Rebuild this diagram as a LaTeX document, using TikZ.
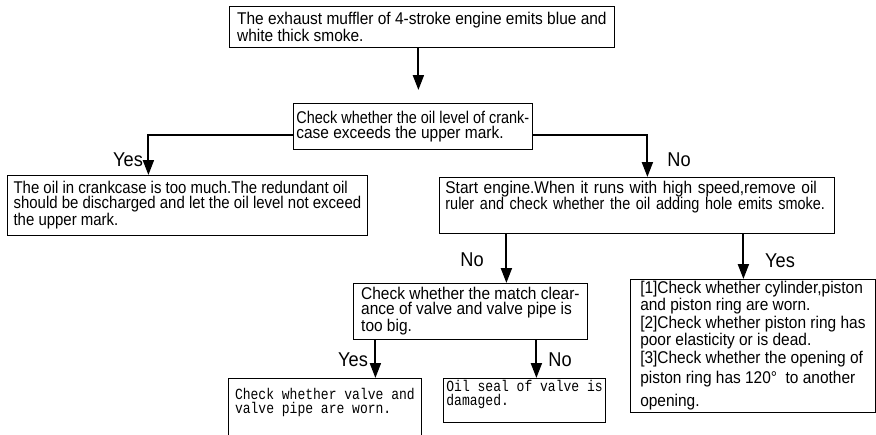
\documentclass[tikz,border=0pt]{standalone}
\usepackage{fontspec}
\setmainfont{Liberation Sans}[FakeStretch=0.91]
\newfontfamily\narrowfont{Liberation Sans}[FakeStretch=0.85]
\newfontfamily\semifont{Liberation Sans}[FakeStretch=0.88]
\newfontfamily\monofont{Liberation Mono}[FakeStretch=0.84]
\usetikzlibrary{arrows.meta}

\begin{document}
\begin{tikzpicture}[
        x=1pt, y=-1pt,
        box/.style={draw, rectangle, line width=0.8pt, anchor=north west, align=left, inner xsep=3pt, inner ysep=2pt, font=\fontsize{17}{15}\selectfont},
        monobox/.style={box, font=\monofont\fontsize{15.5}{13.5}\selectfont},
        lbl/.style={font=\fontsize{20}{20}\selectfont},
        arr/.style={-{Triangle[length=15pt, width=11pt]}, line width=2pt}
    ]
    \useasboundingbox (0,0) rectangle (876,434);

    % Symptom and oil level check
    \node[box, minimum width=385pt, minimum height=41pt] (smoke) at (229,6) {The exhaust muffler of 4-stroke engine emits blue and\\white thick smoke.};
    \node[box, minimum width=236pt, minimum height=46pt] (level) at (293,103) {{\narrowfont Check whether the oil level of crank-}\\case exceeds the upper mark.};

    \draw[arr] ([xshift=-3.5pt]smoke.south) -- ([xshift=-3.5pt,yshift=13pt]smoke.south |- level.north);

    % Yes: too much oil
    \node[box, minimum width=360pt, minimum height=60pt, font=\semifont\fontsize{17}{15}\selectfont] (much) at (7,175) {The oil in crankcase is too much.The redundant oil\\should be discharged and let the oil level not exceed\\the upper mark.};
    \draw[arr] ([yshift=-9pt]level.west) -| ([xshift=-39pt]much.north);
    \node[lbl] (yes1) at (128,160) {Yes};

    % No: run engine
    \node[box, minimum width=395pt, minimum height=56pt, text width=383pt, inner xsep=6pt] (run) at (439,177) {Start engine.When it runs with high speed,remove oil\\{\narrowfont ruler and check whether the oil adding hole emits smoke.}\rule[-20pt]{0pt}{0pt}};
    \draw[arr] ([yshift=-9pt]level.east) -| ([xshift=10.5pt]run.north);
    \node[lbl] (no1) at (679,160) {No};

    % No smoke: valve clearance
    \node[box, minimum width=234pt, minimum height=56pt] (clear) at (353,283) {Check whether the match clear-\\ance of valve and valve pipe is\\too big.};
    \draw[arr] ([xshift=-130.5pt]run.south) -- ([xshift=-130.5pt]run.south |- clear.north);
    \node[lbl] (no2) at (472,260) {No};

    % Smoke: piston and rings
    \node[box, minimum width=245pt, minimum height=132pt] (ring) at (630,279) {[1]Check whether cylinder,piston\\and piston ring are worn.\\[1pt][2]Check whether piston ring has\\poor elasticity or is dead.\\[1pt][3]Check whether the opening of\\[4pt]piston ring has 120°\enspace to another\\[6pt]opening.};
    \draw[arr] ([xshift=106.5pt]run.south) -- ([xshift=106.5pt]run.south |- ring.north);
    \node[lbl] (yes2) at (780,261) {Yes};

    % Valve results
    \node[monobox, minimum width=193pt, minimum height=60pt] (worn) at (228,378) {Check whether valve and\\valve pipe are worn.\rule[-15pt]{0pt}{0pt}};
    \node[monobox, minimum width=159pt, minimum height=41pt] (seal) at (443,378) {Oil seal of valve is\\damaged.\rule[-15pt]{0pt}{0pt}};

    \draw[arr] ([xshift=-95pt]clear.south) -- ([xshift=-95pt]clear.south |- worn.north);
    \draw[arr] ([xshift=66pt]clear.south) -- ([xshift=66pt]clear.south |- seal.north);
    \node[lbl] (yes3) at (353,360) {Yes};
    \node[lbl] (no3) at (560,360) {No};

\end{tikzpicture}
\end{document}
